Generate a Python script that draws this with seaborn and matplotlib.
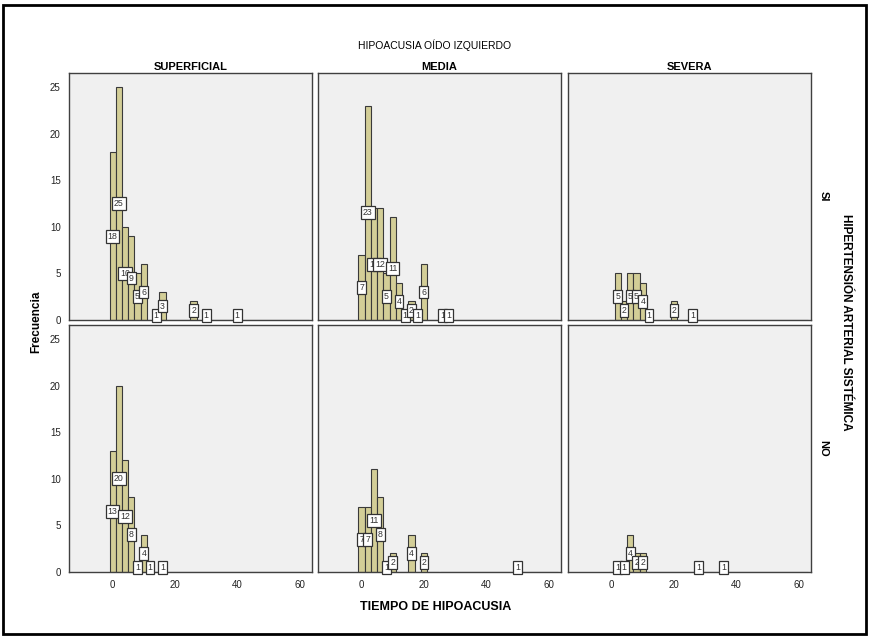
import numpy as np
import pandas as pd
import seaborn as sns
import matplotlib.pyplot as plt
from matplotlib.patches import Rectangle

# tiempo de hipoacusia (centro de cada intervalo) y frecuencias, por panel
si_superficial_t = [0, 2, 4, 6, 8, 10, 14, 16, 26, 30, 40]
si_superficial_n = [18, 25, 10, 9, 5, 6, 1, 3, 2, 1, 1]
si_media_t = [0, 2, 4, 6, 8, 10, 12, 14, 16, 18, 20, 26, 28]
si_media_n = [7, 23, 12, 12, 5, 11, 4, 1, 2, 1, 6, 1, 1]
si_severa_t = [2, 4, 6, 8, 10, 12, 20, 26]
si_severa_n = [5, 2, 5, 5, 4, 1, 2, 1]
no_superficial_t = [0, 2, 4, 6, 8, 10, 12, 16]
no_superficial_n = [13, 20, 12, 8, 1, 4, 1, 1]
no_media_t = [0, 2, 4, 6, 8, 10, 16, 20, 50]
no_media_n = [7, 7, 11, 8, 1, 2, 4, 2, 1]
no_severa_t = [2, 4, 6, 8, 10, 28, 36]
no_severa_n = [1, 1, 4, 2, 2, 1, 1]

filas = ['SI', 'NO']
columnas = ['SUPERFICIAL', 'MEDIA', 'SEVERA']
paneles = {
    ('SI', 'SUPERFICIAL'): (si_superficial_t, si_superficial_n),
    ('SI', 'MEDIA'): (si_media_t, si_media_n),
    ('SI', 'SEVERA'): (si_severa_t, si_severa_n),
    ('NO', 'SUPERFICIAL'): (no_superficial_t, no_superficial_n),
    ('NO', 'MEDIA'): (no_media_t, no_media_n),
    ('NO', 'SEVERA'): (no_severa_t, no_severa_n),
}

registros = []
for (hta, grado), (tt, nn) in paneles.items():
    for t, n in zip(tt, nn):
        registros.append({'hta': hta, 'grado': grado, 'tiempo': t, 'n': n})
df = pd.DataFrame(registros)

sns.set_style('white')
plt.rcParams['font.family'] = ['Liberation Sans', 'DejaVu Sans']
plt.rcParams['text.color'] = 'black'
plt.rcParams['xtick.color'] = 'black'
plt.rcParams['ytick.color'] = 'black'

fig = plt.figure(figsize=(8.7, 6.36), dpi=100)
W, H = 870, 636

# marco exterior
fig.patches.append(Rectangle((3 / W, 1 - 634 / H), 863 / W, 629 / H, transform=fig.transFigure,
                             fill=False, edgecolor='black', linewidth=2))

col_x = [69, 318, 568]
row_y = [73, 325]
pw, ph = 243, 247

color_barra = '#D3CE97'
for i, hta in enumerate(filas):
    for j, grado in enumerate(columnas):
        ax = fig.add_axes([col_x[j] / W, 1 - (row_y[i] + ph) / H, pw / W, ph / H])
        sub = df[(df.hta == hta) & (df.grado == grado)]
        sns.histplot(data=sub, x='tiempo', weights='n', binwidth=2, binrange=(-1, 63),
                     color=color_barra, alpha=1, edgecolor='#3a3a3a', linewidth=0.8, ax=ax)
        ax.set_facecolor('#F0F0F0')
        ax.set_xlim(-14, 64)
        ax.set_ylim(0, 26.5)
        ax.set_xlabel('')
        ax.set_ylabel('')
        for s in ax.spines.values():
            s.set_color('#404040')
            s.set_linewidth(1)
        ax.set_xticks([0, 20, 40, 60])
        ax.set_yticks([0, 5, 10, 15, 20, 25])
        ax.tick_params(axis='both', labelsize=7, length=4, width=0.8, color='#404040', pad=2,
                       labelcolor='#222222')
        if j > 0:
            ax.tick_params(axis='y', left=False, labelleft=False)
        if i == 0:
            ax.tick_params(axis='x', bottom=False, labelbottom=False)
            ax.set_title(grado, fontsize=8, fontweight='bold', pad=2)
        # etiquetas de frecuencia en el centro de cada barra
        for t, n in zip(sub.tiempo, sub.n):
            ax.text(t, n / 2, str(n), ha='center', va='center', fontsize=6.3, color='#333333',
                    bbox=dict(boxstyle='square,pad=0.22', facecolor='white', edgecolor='#333333', linewidth=0.9))
        if j == 2:
            ax.text(1.03, 0.5, hta, transform=ax.transAxes, rotation=-90, ha='left', va='center',
                    fontsize=8, fontweight='bold')

fig.text(435 / W, 1 - 45 / H, 'HIPOACUSIA OÍDO IZQUIERDO', ha='center', va='center', fontsize=7.5)
fig.text(436 / W, 1 - 607 / H, 'TIEMPO DE HIPOACUSIA', ha='center', va='center', fontsize=9, fontweight='bold')
fig.text(36 / W, 1 - 322 / H, 'Frecuencia', ha='center', va='center', rotation=90, fontsize=8.5, fontweight='bold')
fig.text(846 / W, 1 - 322 / H, 'HIPERTENSIÓN ARTERIAL SISTÉMICA', ha='center', va='center', rotation=-90,
         fontsize=8.5, fontweight='bold')

fig.savefig('out.png', dpi=100)
